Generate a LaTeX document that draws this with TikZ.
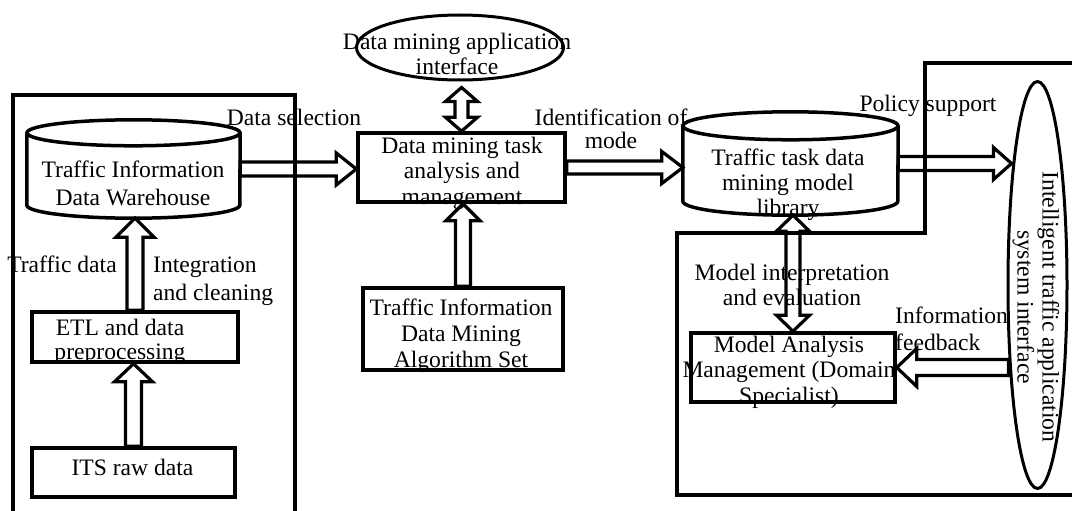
\documentclass[tikz,border=0pt]{standalone}
\usepackage{fontspec}
\setmainfont{Liberation Serif}
\usetikzlibrary{calc,shapes.geometric}
\tikzset{
  box/.style={draw, line width=3.5pt, rectangle, inner sep=0pt},
  oval/.style={draw, line width=3pt, ellipse, inner sep=0pt},
  cyl/.style={line width=3.5pt},
  frameline/.style={line width=4pt},
  barw/.style={line width=3.2pt},
  txt/.style={font=\fontsize{23.6}{#1}\selectfont, align=center, anchor=base, inner sep=0pt},
  txt/.default=25.5,
  barrow/.style n args={3}{to path={
     let \p1=(\tikztostart), \p2=(\tikztotarget), \p3=($(\p2)!#3!(\p1)$) in
     ($(\p1)!#1!90:(\p2)$) -- ($(\p3)!#1!90:(\p2)$) -- ($(\p3)!#2!90:(\p2)$) -- (\p2)
     -- ($(\p3)!#2!-90:(\p2)$) -- ($(\p3)!#1!-90:(\p2)$) -- ($(\p1)!#1!-90:(\p2)$) -- cycle}},
  dbarrow/.style n args={3}{to path={
     let \p1=(\tikztostart), \p2=(\tikztotarget), \p3=($(\p2)!#3!(\p1)$), \p4=($(\p1)!#3!(\p2)$) in
     (\p1) -- ($(\p4)!#2!90:(\p2)$) -- ($(\p4)!#1!90:(\p2)$) -- ($(\p3)!#1!90:(\p2)$) -- ($(\p3)!#2!90:(\p2)$) -- (\p2)
     -- ($(\p3)!#2!-90:(\p2)$) -- ($(\p3)!#1!-90:(\p2)$) -- ($(\p4)!#1!-90:(\p2)$) -- ($(\p4)!#2!-90:(\p2)$) -- cycle}},
}
\begin{document}
\begin{tikzpicture}[x=1pt, y=-1pt]
\useasboundingbox (0,0) rectangle (1072,511);
\fill[white] (0,0) rectangle (1072,511);

% frames
\draw[frameline] (13,520) -- (13,95) -- (295,95) -- (295,520);
\draw[frameline] (1080,63) -- (925,63) -- (925,233) -- (677,233) -- (677,495) -- (1080,495);

% shapes
\node[minimum width=213pt, minimum height=98pt, inner sep=0pt] (wh) at (133.5,169) {};
\draw[cyl] ($(wh.north west)+(0,13)$) -- ($(wh.south west)+(0,-13)$)
   arc[start angle=180, end angle=360, x radius=106.5pt, y radius=13pt] -- ($(wh.north east)+(0,13)$);
\draw[cyl] ($(wh.north)+(0,13)$) ellipse[x radius=106.5pt, y radius=13pt];

\node[box, minimum width=206pt, minimum height=50pt] (etl) at (135,337) {};
\node[box, minimum width=203pt, minimum height=49pt] (its) at (133.5,472.5) {};
\node[oval, minimum width=207pt, minimum height=65pt] (dmi) at (460,47.5) {};
\node[box, minimum width=207pt, minimum height=69pt] (task) at (461.5,167.5) {};
\node[box, minimum width=200pt, minimum height=82pt] (alg) at (463,329) {};

\node[minimum width=215pt, minimum height=103pt, inner sep=0pt] (lib) at (790.5,163.5) {};
\draw[cyl] ($(lib.north west)+(0,14)$) -- ($(lib.south west)+(0,-14)$)
   arc[start angle=180, end angle=360, x radius=107.5pt, y radius=14pt] -- ($(lib.north east)+(0,14)$);
\draw[cyl] ($(lib.north)+(0,14)$) ellipse[x radius=107.5pt, y radius=14pt];

\node[box, minimum width=204pt, minimum height=69pt] (ma) at (793,367.5) {};
\node[oval, minimum width=59pt, minimum height=407pt] (iti) at (1037.5,285) {};

% texts (anchor base = last line's baseline)
\node[txt] (t-ds) at (294,125) {Data selection};
\node[txt=28] (t-wh) at (133,205) {Traffic Information\\Data Warehouse};
\node[txt] (t-td) at (62,272) {Traffic data};
\node[txt=28, anchor=base west, align=left] (t-ic) at (153,300) {Integration\\and cleaning};
\node[txt=24] (t-etl) at (120,359) {ETL and data\\preprocessing};
\node[txt] (t-its) at (132.5,475) {ITS raw data};
\node[txt=25] (t-dmi) at (457,75) {Data mining application\\interface};
\node[txt=25.5] (t-task) at (462,204) {Data mining task\\analysis and\\management};
\node[txt=23] (t-id) at (611,148) {Identification of\\mode};
\node[txt=26] (t-alg) at (461,367) {Traffic Information\\Data Mining\\Algorithm Set};
\node[txt] (t-ps) at (928,112) {Policy support};
\node[txt=25] (t-lib) at (788,215) {Traffic task data\\mining model\\library};
\node[txt=25] (t-mi) at (792,305) {Model interpretation\\and evaluation};
\node[txt=25.5] (t-ma) at (789,403) {Model Analysis\\Management (Domain\\Specialist)};
\node[txt=27, anchor=base west, align=left] (t-if) at (895,350) {Information\\feedback};
\node[txt=25, anchor=center, rotate=-90] (t-iti) at (1036,307) {Intelligent traffic application\\system interface};

% arrows
\coordinate (dmiS) at ($(dmi.south -| task.north)+(0,6)$);
\coordinate (itiA) at ($(lib.east -| iti.west)+(5,0)$);
\coordinate (itiB) at ($(ma.east -| iti.west)+(2,0)$);
\draw[barw] (wh.east) to[barrow={7pt}{16pt}{20pt}] (wh.east -| task.west);
\draw[barw] (etl.north) to[barrow={8pt}{19pt}{19pt}] (etl.north |- wh.south);
\draw[barw] (its.north) to[barrow={8pt}{19pt}{18pt}] (its.north |- etl.south);
\draw[barw] (dmiS) to[dbarrow={6.5pt}{16pt}{14pt}] (task.north);
\draw[barw] (alg.north) to[barrow={7.5pt}{17pt}{17pt}] (alg.north |- task.south);
\draw[barw] (task.east) to[barrow={6.5pt}{16pt}{21pt}] (task.east -| lib.west);
\draw[barw] (lib.east) to[barrow={7pt}{16pt}{18pt}] (itiA);
\draw[barw] (lib.south -| ma.north) to[dbarrow={7pt}{16.5pt}{16pt}] (ma.north);
\draw[barw] (itiB) to[barrow={8pt}{19pt}{20pt}] (ma.east);
\end{tikzpicture}
\end{document}
